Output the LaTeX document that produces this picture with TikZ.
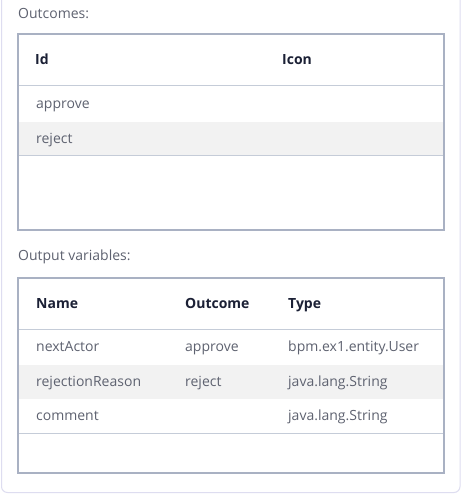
\documentclass[tikz,border=0pt]{standalone}
\usepackage{fontspec}
\setmainfont{Open Sans}
\definecolor{cardline}{HTML}{DEDDF0}
\definecolor{tblline}{HTML}{A9B1C3}
\definecolor{sepline}{HTML}{C5CCD8}
\definecolor{stripe}{HTML}{F2F2F2}
\definecolor{bodytxt}{HTML}{5E6270}
\definecolor{headtxt}{HTML}{1B2035}
\definecolor{labeltxt}{HTML}{5E6270}
\tikzset{
  body/.style={anchor=base west, inner sep=0pt, text=bodytxt, font=\fontsize{14}{16}\selectfont},
  head/.style={anchor=base west, inner sep=0pt, text=headtxt, font=\fontsize{14}{16}\selectfont\bfseries},
  lbl/.style={anchor=base west, inner sep=0pt, text=labeltxt, font=\fontsize{14}{16}\selectfont},
  tbl/.style={draw=tblline, line width=1.2pt},
  sep/.style={draw=sepline, line width=1pt},
}
\begin{document}
\begin{tikzpicture}[x=1pt,y=-1pt]
\useasboundingbox (0,0) rectangle (462,494);
\clip (0,0) rectangle (462,494);
\fill[white] (0,0) rectangle (462,494);
\draw[cardline, line width=1pt, rounded corners=6pt] (1.5,-20) rectangle (460,492.5);
% table 1
\node[lbl] (t1lbl) at (18,18.8) {Outcomes:};
\fill[stripe] (19,122) rectangle (443,155.5);
\draw[sep] (18.6,86) -- (443.4,86);
\draw[sep] (18.6,156) -- (443.4,156);
\draw[tbl] (18,34) rectangle (444,230);
\node[head] (hid) at (35,64.8) {Id};
\node[head] (hicon) at (282,64.8) {Icon};
\node[body] (r1) at (36,108.8) {approve};
\node[body] (r2) at (36,143.6) {reject};
% table 2
\node[lbl] (t2lbl) at (18,260.8) {Output variables:};
\fill[stripe] (19,365) rectangle (443,398.5);
\draw[sep] (18.6,329) -- (443.4,329);
\draw[sep] (18.6,433) -- (443.4,433);
\draw[tbl] (18,278) rectangle (444,473);
\node[head] (hname) at (36,308.8) {Name};
\node[head] (hout) at (185,308.8) {Outcome};
\node[head] (htype) at (288,308.8) {Type};
\node[body] (a1) at (36,351.7) {nextActor};
\node[body] (a2) at (185,351.7) {approve};
\node[body] (a3) at (288,351.7) {bpm.ex1.entity.User};
\node[body] (b1) at (36,386.6) {rejectionReason};
\node[body] (b2) at (185,386.6) {reject};
\node[body] (b3) at (288,386.6) {java.lang.String};
\node[body] (c1) at (36,420.8) {comment};
\node[body] (c3) at (288,420.8) {java.lang.String};
\end{tikzpicture}
\end{document}
